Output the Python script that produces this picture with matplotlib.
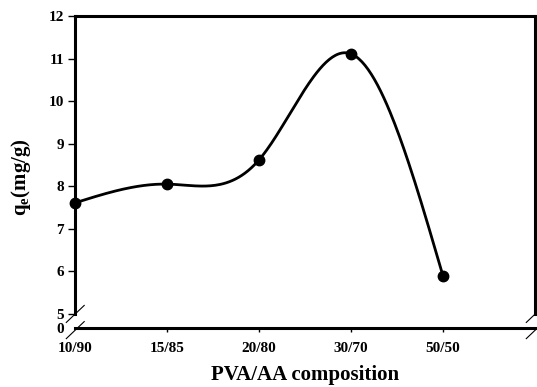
import numpy as np
import matplotlib.pyplot as plt

plt.rcParams['font.family'] = ['Liberation Serif', 'DejaVu Serif']
plt.rcParams['font.weight'] = 'bold'
plt.rcParams['mathtext.fontset'] = 'custom'
plt.rcParams['mathtext.rm'] = 'Liberation Serif:bold'
plt.rcParams['mathtext.it'] = 'Liberation Serif:bold'
plt.rcParams['mathtext.bf'] = 'Liberation Serif:bold'

compositions = ['10/90', '15/85', '20/80', '30/70', '50/50']
qe = [7.61, 8.05, 8.62, 11.11, 5.89]
y_ticks = [5, 6, 7, 8, 9, 10, 11, 12]


def natural_spline(y, n=60):
    """Natural cubic spline through evenly spaced points (unit spacing)."""
    y = np.asarray(y, dtype=float)
    k = len(y)
    A = np.zeros((k, k))
    b = np.zeros(k)
    A[0, 0] = A[-1, -1] = 1.0
    for i in range(1, k - 1):
        A[i, i - 1], A[i, i], A[i, i + 1] = 1.0, 4.0, 1.0
        b[i] = 6.0 * (y[i + 1] - 2 * y[i] + y[i - 1])
    M = np.linalg.solve(A, b)
    xs, ys = [], []
    for i in range(k - 1):
        t = np.linspace(0, 1, n)
        s = ((1 - t) * y[i] + t * y[i + 1]
             + ((1 - t) ** 3 - (1 - t)) * M[i] / 6
             + (t ** 3 - t) * M[i + 1] / 6)
        xs.append(i + t)
        ys.append(s)
    return np.concatenate(xs), np.concatenate(ys)


fig = plt.figure(figsize=(5.37, 3.87), dpi=100)
ax = fig.add_axes([0.1397, 0.1525, 0.8566, 0.8062])

x = np.arange(len(compositions))
xs, ys = natural_spline(qe)
ax.plot(xs, ys, color='black', lw=2.0, zorder=3)
ax.plot(x, qe, 'o', color='black', ms=7.5, zorder=4, clip_on=False)

ybottom = 4.67
ax.set_xlim(0, 5)
ax.set_ylim(ybottom, 12)

ax.set_yticks([ybottom] + y_ticks)
ax.set_yticklabels(['0'] + [str(v) for v in y_ticks])
ax.yaxis.get_major_ticks()[0].tick1line.set_visible(False)
ax.set_xticks(x)
ax.set_xticklabels(compositions)
ax.xaxis.get_major_ticks()[0].tick1line.set_visible(False)

ax.tick_params(axis='y', direction='out', length=5, width=1, pad=3, labelsize=11)
ax.tick_params(axis='x', direction='out', length=3, width=1, pad=7, labelsize=11)

for side in ['left', 'right', 'top', 'bottom']:
    ax.spines[side].set_linewidth(2.2)
ax.spines['left'].set_bounds(5, 12)
ax.spines['right'].set_bounds(5, 12)

# axis break marks
for xc in (0, 5):
    for yc in (5, ybottom - 0.05):
        ax.plot([xc - 0.095, xc + 0.1], [yc - 0.2, yc + 0.2],
                color='black', lw=0.8, clip_on=False, zorder=5)

ax.set_ylabel('q$_e$(mg/g)', fontsize=15, fontweight='bold')
ax.yaxis.set_label_coords(-0.092, 0.485)
ax.set_xlabel('PVA/AA composition', fontsize=15, fontweight='bold')
ax.xaxis.set_label_coords(0.5, -0.118)

fig.savefig('out.png', dpi=100)
